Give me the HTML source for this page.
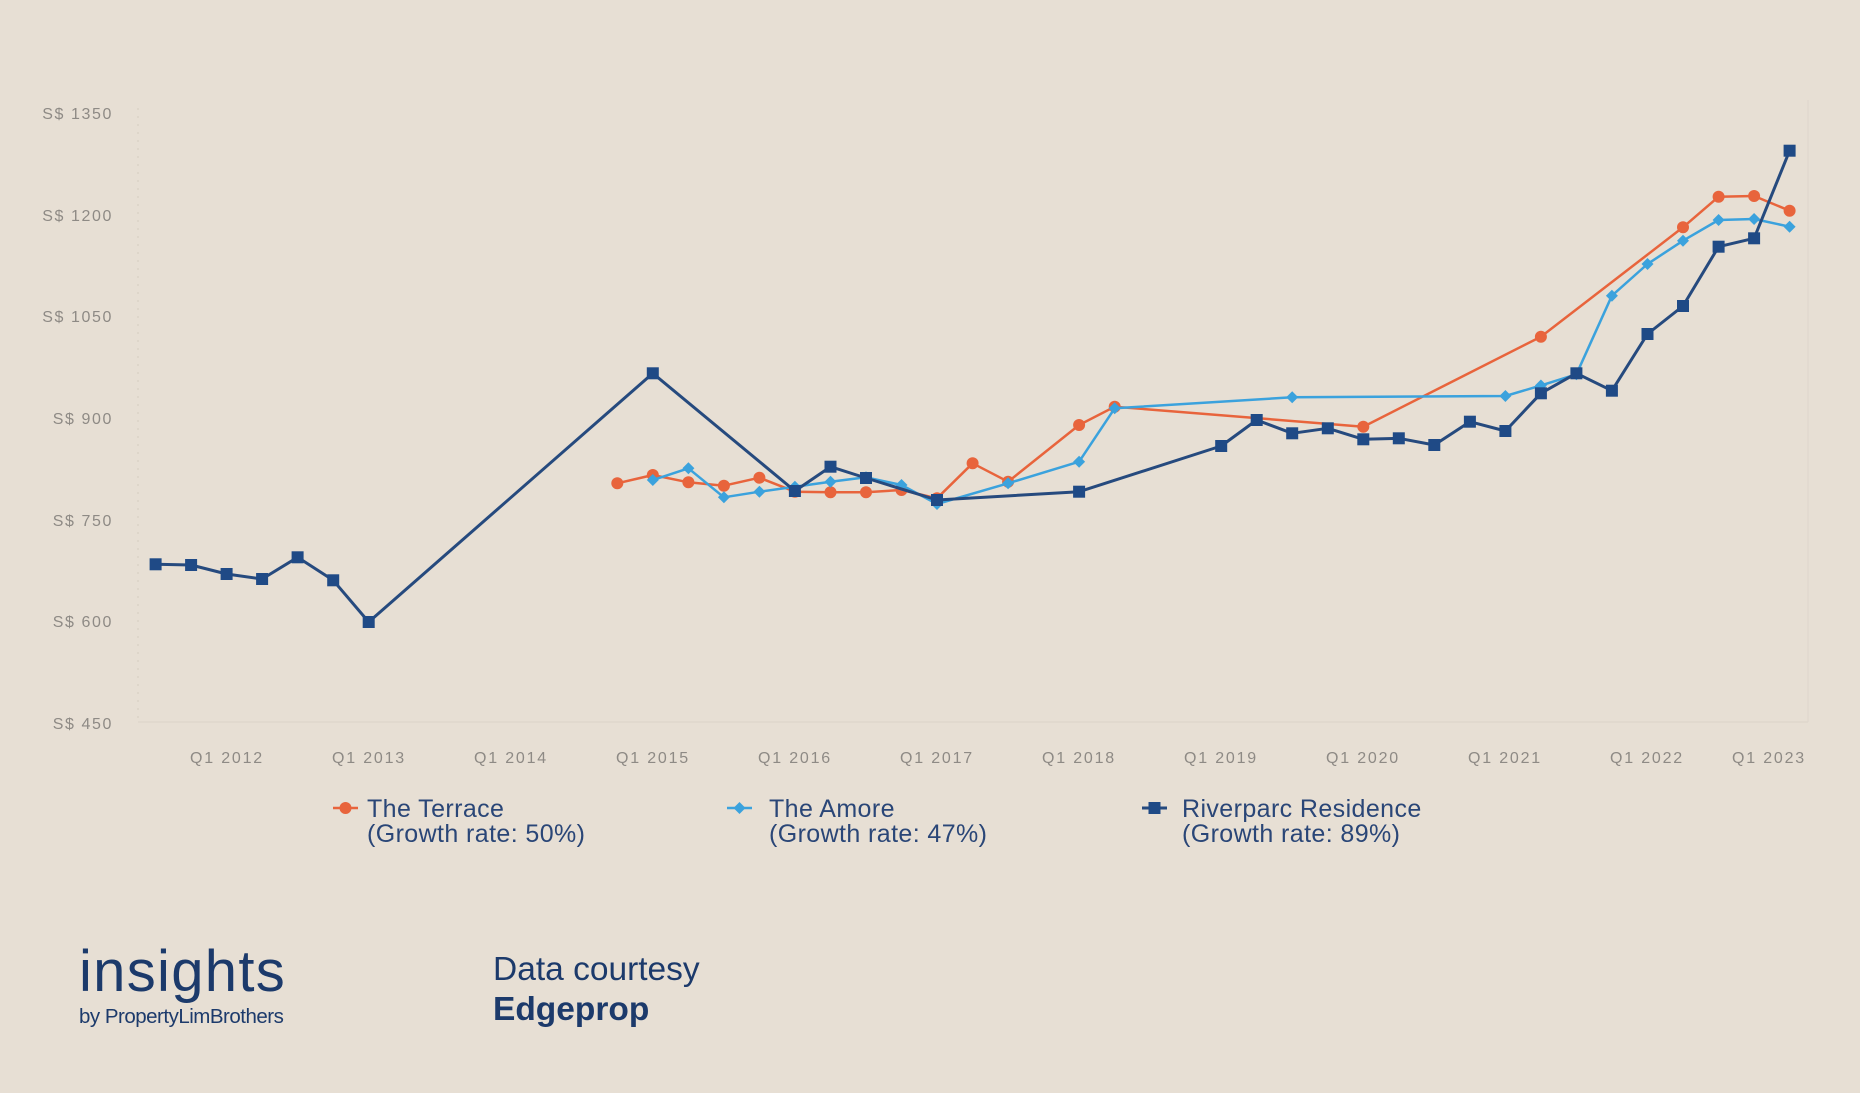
<!DOCTYPE html>
<html><head><meta charset="utf-8"><style>
html,body{margin:0;padding:0;background:#e7dfd4;}
svg{display:block;}
</style></head><body>
<svg width="1860" height="1093" viewBox="0 0 1860 1093" xmlns="http://www.w3.org/2000/svg">
<rect width="1860" height="1093" fill="#e7dfd4"/>
<g stroke="#d9d0c4" stroke-width="1.2" fill="none">
<line x1="138" y1="108" x2="138" y2="722" stroke-dasharray="2,6"/>
<line x1="138" y1="722" x2="1808" y2="722" stroke="#ddd5ca"/>
<line x1="1808" y1="100" x2="1808" y2="722" stroke="#e0d8cd"/>
</g>
<g font-family="Liberation Sans, sans-serif" font-size="16" fill="#8e8a85" letter-spacing="1.6" text-anchor="end">
<text x="113" y="119">S$ 1350</text>
<text x="113" y="221">S$ 1200</text>
<text x="113" y="322">S$ 1050</text>
<text x="113" y="424">S$ 900</text>
<text x="113" y="526">S$ 750</text>
<text x="113" y="627">S$ 600</text>
<text x="113" y="729">S$ 450</text>
</g>
<g font-family="Liberation Sans, sans-serif" font-size="16" fill="#8e8a85" letter-spacing="1.8" text-anchor="middle">
<text x="227" y="763">Q1 2012</text>
<text x="369" y="763">Q1 2013</text>
<text x="511" y="763">Q1 2014</text>
<text x="653" y="763">Q1 2015</text>
<text x="795" y="763">Q1 2016</text>
<text x="937" y="763">Q1 2017</text>
<text x="1079" y="763">Q1 2018</text>
<text x="1221" y="763">Q1 2019</text>
<text x="1363" y="763">Q1 2020</text>
<text x="1505" y="763">Q1 2021</text>
<text x="1647" y="763">Q1 2022</text>
<text x="1769" y="763">Q1 2023</text>
</g>
<!-- The Terrace -->
<g>
<polyline fill="none" stroke="#e8643c" stroke-width="2.5" stroke-linejoin="round" points="617.3,483.3 652.8,475 688.4,482.3 723.9,485.7 759.4,477.7 794.9,491.7 830.5,492.3 866,492.3 901.5,490 937,498.3 972.6,463.3 1008.1,481.7 1079.1,425 1114.7,406.7 1363.3,426.7 1540.9,336.7 1683,227.3 1718.6,196.7 1754.1,196 1789.6,210.7"/>
<g fill="#e8643c">
<circle cx="617.3" cy="483.3" r="6"/><circle cx="652.8" cy="475" r="6"/><circle cx="688.4" cy="482.3" r="6"/><circle cx="723.9" cy="485.7" r="6"/><circle cx="759.4" cy="477.7" r="6"/><circle cx="794.9" cy="491.7" r="6"/><circle cx="830.5" cy="492.3" r="6"/><circle cx="866" cy="492.3" r="6"/><circle cx="901.5" cy="490" r="6"/><circle cx="937" cy="498.3" r="6"/><circle cx="972.6" cy="463.3" r="6"/><circle cx="1008.1" cy="481.7" r="6"/><circle cx="1079.1" cy="425" r="6"/><circle cx="1114.7" cy="406.7" r="6"/><circle cx="1363.3" cy="426.7" r="6"/><circle cx="1540.9" cy="336.7" r="6"/><circle cx="1683" cy="227.3" r="6"/><circle cx="1718.6" cy="196.7" r="6"/><circle cx="1754.1" cy="196" r="6"/><circle cx="1789.6" cy="210.7" r="6"/>
</g>
</g>
<!-- The Amore -->
<g>
<polyline fill="none" stroke="#3ba2dd" stroke-width="2.5" stroke-linejoin="round" points="652.8,480 688.4,468.3 723.9,497.3 759.4,491.7 794.9,486.7 830.5,481.7 866,477.3 901.5,485 937,504 1008.1,483.3 1079.1,461.7 1114.7,408.3 1292.2,397.3 1505.4,396 1540.9,385.5 1576.4,374.3 1611.9,295.7 1647.5,264 1683,240.7 1718.6,220 1754.1,219 1789.6,226.7"/>
<g fill="#3ba2dd">
<path d="M652.8,474 l6,6 l-6,6 l-6,-6z"/><path d="M688.4,462.3 l6,6 l-6,6 l-6,-6z"/><path d="M723.9,491.3 l6,6 l-6,6 l-6,-6z"/><path d="M759.4,485.7 l6,6 l-6,6 l-6,-6z"/><path d="M794.9,480.7 l6,6 l-6,6 l-6,-6z"/><path d="M830.5,475.7 l6,6 l-6,6 l-6,-6z"/><path d="M866,471.3 l6,6 l-6,6 l-6,-6z"/><path d="M901.5,479 l6,6 l-6,6 l-6,-6z"/><path d="M937,498 l6,6 l-6,6 l-6,-6z"/><path d="M1008.1,477.3 l6,6 l-6,6 l-6,-6z"/><path d="M1079.1,455.7 l6,6 l-6,6 l-6,-6z"/><path d="M1114.7,402.3 l6,6 l-6,6 l-6,-6z"/><path d="M1292.2,391.3 l6,6 l-6,6 l-6,-6z"/><path d="M1505.4,390 l6,6 l-6,6 l-6,-6z"/><path d="M1540.9,379.5 l6,6 l-6,6 l-6,-6z"/><path d="M1576.4,368.3 l6,6 l-6,6 l-6,-6z"/><path d="M1611.9,289.7 l6,6 l-6,6 l-6,-6z"/><path d="M1647.5,258 l6,6 l-6,6 l-6,-6z"/><path d="M1683,234.7 l6,6 l-6,6 l-6,-6z"/><path d="M1718.6,214 l6,6 l-6,6 l-6,-6z"/><path d="M1754.1,213 l6,6 l-6,6 l-6,-6z"/><path d="M1789.6,220.7 l6,6 l-6,6 l-6,-6z"/>
</g>
</g>
<!-- Riverparc Residence -->
<g>
<polyline fill="none" stroke="#264a7e" stroke-width="3" stroke-linejoin="round" points="155.6,564.3 191.1,565 226.6,574 262.1,579 297.6,557.3 333.2,580.3 368.7,622 652.8,373.3 794.9,491 830.5,466.7 866,478 937,500 1079.1,491.7 1221.2,446 1256.7,420 1292.2,433.3 1327.8,428.3 1363.3,439.3 1398.8,438.3 1434.3,445 1469.9,421.7 1505.4,431 1540.9,393.3 1576.4,373.3 1611.9,390.7 1647.5,334 1683,306 1718.6,246.7 1754.1,238.3 1789.6,150.7"/>
<g fill="#1f4a86">
<rect x="149.6" y="558.3" width="12" height="12"/><rect x="185.1" y="559" width="12" height="12"/><rect x="220.6" y="568" width="12" height="12"/><rect x="256.1" y="573" width="12" height="12"/><rect x="291.6" y="551.3" width="12" height="12"/><rect x="327.2" y="574.3" width="12" height="12"/><rect x="362.7" y="616" width="12" height="12"/><rect x="646.8" y="367.3" width="12" height="12"/><rect x="788.9" y="485" width="12" height="12"/><rect x="824.5" y="460.7" width="12" height="12"/><rect x="860" y="472" width="12" height="12"/><rect x="931" y="494" width="12" height="12"/><rect x="1073.1" y="485.7" width="12" height="12"/><rect x="1215.2" y="440" width="12" height="12"/><rect x="1250.7" y="414" width="12" height="12"/><rect x="1286.2" y="427.3" width="12" height="12"/><rect x="1321.8" y="422.3" width="12" height="12"/><rect x="1357.3" y="433.3" width="12" height="12"/><rect x="1392.8" y="432.3" width="12" height="12"/><rect x="1428.3" y="439" width="12" height="12"/><rect x="1463.9" y="415.7" width="12" height="12"/><rect x="1499.4" y="425" width="12" height="12"/><rect x="1534.9" y="387.3" width="12" height="12"/><rect x="1570.4" y="367.3" width="12" height="12"/><rect x="1605.9" y="384.7" width="12" height="12"/><rect x="1641.5" y="328" width="12" height="12"/><rect x="1677" y="300" width="12" height="12"/><rect x="1712.6" y="240.7" width="12" height="12"/><rect x="1748.1" y="232.3" width="12" height="12"/><rect x="1783.6" y="144.7" width="12" height="12"/>
</g>
</g>
<!-- Legend -->
<g>
<line x1="333" y1="808" x2="358" y2="808" stroke="#e8643c" stroke-width="2.5"/>
<circle cx="345.5" cy="808" r="6" fill="#e8643c"/>
<line x1="727" y1="808" x2="752" y2="808" stroke="#3ba2dd" stroke-width="2.5"/>
<path d="M739.5,802 l6,6 l-6,6 l-6,-6z" fill="#3ba2dd"/>
<line x1="1142" y1="808" x2="1167" y2="808" stroke="#264a7e" stroke-width="3"/>
<rect x="1148.5" y="802" width="12" height="12" fill="#1f4a86"/>
</g>
<g font-family="Liberation Sans, sans-serif" font-size="25" fill="#2a4677" letter-spacing="0.4">
<text x="367" y="817">The Terrace</text>
<text x="367" y="842">(Growth rate: 50%)</text>
<text x="769" y="817">The Amore</text>
<text x="769" y="842">(Growth rate: 47%)</text>
<text x="1182" y="817">Riverparc Residence</text>
<text x="1182" y="842">(Growth rate: 89%)</text>
</g>
<!-- Footer -->
<g font-family="Liberation Sans, sans-serif" fill="#1c3a6b">
<text x="79" y="991" font-size="58" letter-spacing="1.3">insights</text>
<text x="79" y="1023" font-size="20.5" letter-spacing="-0.5">by PropertyLimBrothers</text>
<text x="493" y="980" font-size="33.5">Data courtesy</text>
<text x="493" y="1020" font-size="33.5" font-weight="bold">Edgeprop</text>
</g>
</svg>
</body></html>
